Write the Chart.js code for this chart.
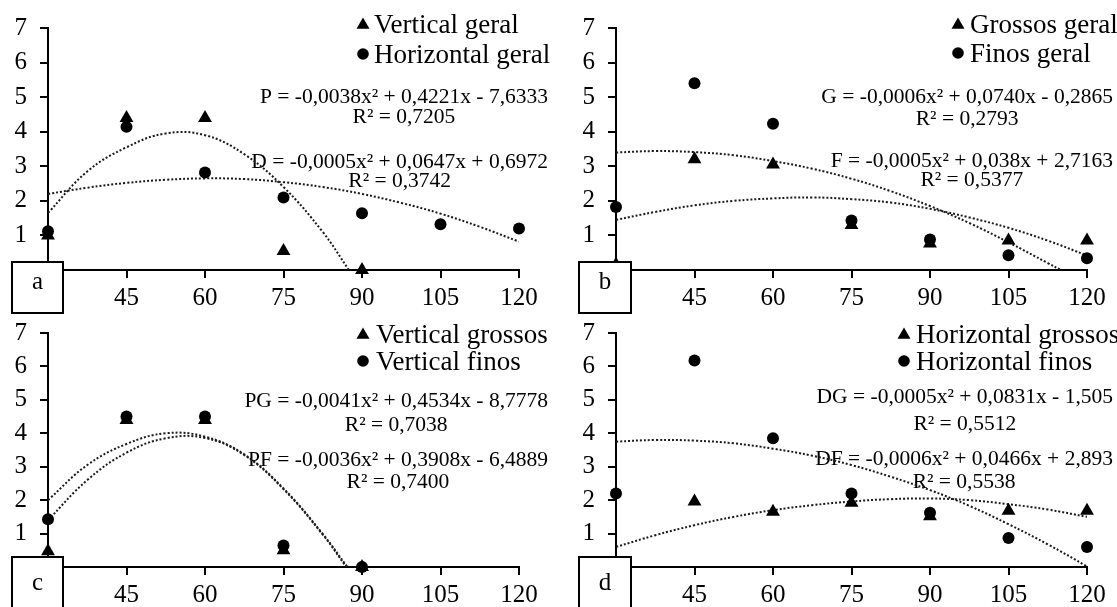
<!DOCTYPE html>
<html>
<head>
<meta charset="utf-8">
<script src="https://cdn.jsdelivr.net/npm/chart.js@4.4.0/dist/chart.umd.min.js"></script>
<style>
  html, body { margin: 0; padding: 0; background: #fff; }
  body { width: 1117px; height: 607px; position: relative; overflow: hidden; }
  canvas { position: absolute; }
</style>
</head>
<body>
<canvas id="chart-a" width="558" height="315" style="left:0;top:0"></canvas>
<canvas id="chart-b" width="559" height="315" style="left:558px;top:0"></canvas>
<canvas id="chart-c" width="558" height="302" style="left:0;top:305px"></canvas>
<canvas id="chart-d" width="559" height="302" style="left:558px;top:305px"></canvas>
<script>
// shared axes
const xTicks = [30, 45, 60, 75, 90, 105, 120];
const yTicks = [0, 1, 2, 3, 4, 5, 6, 7];
const trendX = [30, 37.5, 45, 52.5, 60, 67.5, 75, 82.5, 90, 97.5, 105, 112.5, 120];

// panel a
const aVerticalX = [30, 45, 60, 75, 90];
const aVertical = [1.0, 4.4, 4.4, 0.55, 0];
const aHorizontal = [1.12, 4.14, 2.82, 2.1, 1.64, 1.32, 1.2];
const aTrendPX = [30, 37.5, 45, 52.5, 60, 67.5, 75, 82.5, 87.5];
const aTrendP = [1.65, 2.85, 3.55, 3.95, 3.9, 3.35, 2.4, 1.1, 0];
const aTrendD = [2.2, 2.38, 2.52, 2.61, 2.65, 2.63, 2.54, 2.4, 2.2, 1.94, 1.63, 1.25, 0.82];

// panel b
const bGrossos = [0.15, 3.2, 3.05, 1.3, 0.77, 0.85, 0.85];
const bFinos = [1.82, 5.4, 4.23, 1.43, 0.88, 0.43, 0.34];
const bTrendG = [1.45, 1.68, 1.87, 2.0, 2.07, 2.1, 2.05, 1.95, 1.77, 1.52, 1.22, 0.85, 0.42];
const bTrendFX = [30, 37.5, 45, 52.5, 60, 67.5, 75, 82.5, 90, 97.5, 105, 112.5, 115];
const bTrendF = [3.4, 3.44, 3.41, 3.32, 3.15, 2.93, 2.64, 2.28, 1.85, 1.36, 0.8, 0.2, 0];

// panel c
const cPointsX = [30, 45, 60, 75, 90];
const cGrossos = [0.47, 4.4, 4.4, 0.5, 0];
const cFinos = [1.43, 4.5, 4.5, 0.64, 0];
const cTrendPGX = [30, 37.5, 45, 52.5, 60, 67.5, 75, 82.5, 87];
const cTrendPG = [1.4, 2.6, 3.42, 3.85, 3.86, 3.35, 2.33, 0.97, 0];
const cTrendPFX = [30, 37.5, 45, 52.5, 60, 67.5, 75, 82.5, 87.2];
const cTrendPF = [2.0, 3.05, 3.68, 4.0, 3.9, 3.37, 2.35, 0.99, 0];

// panel d
const dGrossos = [0, 1.96, 1.65, 1.92, 1.52, 1.68, 1.68];
const dFinos = [2.2, 6.18, 3.85, 2.2, 1.62, 0.87, 0.6];
const dTrendDG = [0.6, 0.95, 1.25, 1.5, 1.7, 1.85, 1.96, 2.03, 2.05, 2.0, 1.88, 1.72, 1.5];
const dTrendDF = [3.75, 3.8, 3.78, 3.7, 3.54, 3.33, 3.05, 2.7, 2.3, 1.83, 1.28, 0.68, 0.02];

const serif = "'Liberation Serif', 'Times New Roman', serif";

function pts(xs, ys) {
  return xs.map((x, i) => ({ x: x, y: ys[i] }));
}

function markers(xs, ys, style) {
  return {
    data: pts(xs, ys),
    pointStyle: style,
    pointRadius: style === 'triangle' ? 8 : 6,
    backgroundColor: '#000',
    borderColor: '#000',
    borderWidth: 0,
    showLine: false,
    clip: false
  };
}

function trend(xs, ys) {
  return {
    data: pts(xs, ys),
    showLine: true,
    pointRadius: 0,
    borderColor: '#1a1a1a',
    borderWidth: 2,
    borderDash: [2, 2],
    tension: 0.4,
    fill: false
  };
}

function drawTriangle(ctx, x, y, r) {
  ctx.beginPath();
  ctx.moveTo(x, y - r);
  ctx.lineTo(x + r * 0.866, y + r / 2);
  ctx.lineTo(x - r * 0.866, y + r / 2);
  ctx.closePath();
  ctx.fill();
}

// equations, legend and the letter box
const decorations = {
  id: 'decorations',
  beforeDatasetsDraw(chart, args, opts) {
    const ctx = chart.ctx;
    ctx.save();
    ctx.fillStyle = '#000';
    ctx.textBaseline = 'alphabetic';
    ctx.font = '21.5px ' + serif;
    opts.equations.forEach(eq => {
      const w = ctx.measureText(eq.fit).width;
      ctx.textAlign = 'right';
      ctx.fillText(eq.fit, opts.eqRight, eq.y);
      ctx.textAlign = 'center';
      ctx.fillText(eq.r2, opts.eqRight - w / 2, eq.r2y);
    });
    ctx.restore();
  },
  afterDraw(chart, args, opts) {
    const ctx = chart.ctx;
    ctx.save();
    ctx.fillStyle = '#000';
    ctx.textBaseline = 'alphabetic';
    ctx.textAlign = 'left';
    ctx.font = '27px ' + serif;
    opts.legend.forEach(row => {
      if (row.shape === 'triangle') {
        drawTriangle(ctx, opts.markerX, row.y - 8, 7.5);
      } else {
        ctx.beginPath();
        ctx.arc(opts.markerX, row.y - 9, 5.8, 0, Math.PI * 2);
        ctx.fill();
      }
      ctx.fillText(row.text, opts.textX, row.y);
    });
    const b = opts.box;
    ctx.fillStyle = '#fff';
    ctx.fillRect(b[0], b[1], b[2], b[3]);
    ctx.strokeStyle = '#000';
    ctx.lineWidth = 2;
    ctx.strokeRect(b[0], b[1], b[2], b[3]);
    ctx.fillStyle = '#000';
    ctx.font = '25px ' + serif;
    ctx.textAlign = 'center';
    ctx.fillText(opts.label, b[0] + b[2] / 2, opts.labelY);
    ctx.restore();
  }
};

function buildChart(id, datasets, cfg) {
  return new Chart(document.getElementById(id), {
    type: 'scatter',
    data: { datasets: datasets },
    options: {
      responsive: false,
      animation: false,
      events: [],
      layout: { padding: { left: 0, right: cfg.padRight, top: cfg.padTop, bottom: 0 } },
      plugins: {
        legend: { display: false },
        tooltip: { enabled: false },
        decorations: cfg.deco
      },
      scales: {
        x: {
          type: 'linear',
          min: 30,
          max: 120,
          afterBuildTicks: s => { s.ticks = xTicks.map(v => ({ value: v })); },
          afterFit: s => { s.height = cfg.xAxisHeight; },
          grid: { drawOnChartArea: false, drawTicks: true, tickLength: 8, color: '#000', lineWidth: 2 },
          border: { display: true, color: '#000', width: 2 },
          ticks: {
            color: '#000',
            padding: 5,
            maxRotation: 0,
            font: { family: serif, size: 25 },
            callback: v => (v === 30 ? '' : v)
          }
        },
        y: {
          min: 0,
          max: 7,
          afterBuildTicks: s => { s.ticks = yTicks.map(v => ({ value: v })); },
          afterFit: s => { s.width = cfg.yAxisWidth; },
          grid: { drawOnChartArea: false, drawTicks: true, tickLength: 8, color: '#000', lineWidth: 2 },
          border: { display: true, color: '#000', width: 2 },
          ticks: {
            color: '#000',
            padding: 13,
            font: { family: serif, size: 25 },
            callback: v => (v === 0 ? '' : v)
          }
        }
      }
    },
    plugins: [decorations]
  });
}

buildChart('chart-a', [
  markers(aVerticalX, aVertical, 'triangle'),
  markers(xTicks, aHorizontal, 'circle'),
  trend(aTrendPX, aTrendP),
  trend(trendX, aTrendD)
], {
  padRight: 39, padTop: 26, xAxisHeight: 45, yAxisWidth: 48,
  deco: {
    label: 'a', box: [12, 262, 51, 51], labelY: 289,
    markerX: 363, textX: 374,
    legend: [
      { shape: 'triangle', text: 'Vertical geral', y: 33 },
      { shape: 'circle', text: 'Horizontal geral', y: 63 }
    ],
    eqRight: 548,
    equations: [
      { fit: 'P = -0,0038x² + 0,4221x - 7,6333', r2: 'R² = 0,7205', y: 103, r2y: 123 },
      { fit: 'D = -0,0005x² + 0,0647x + 0,6972', r2: 'R² = 0,3742', y: 168, r2y: 187 }
    ]
  }
});

buildChart('chart-b', [
  markers(xTicks, bGrossos, 'triangle'),
  markers(xTicks, bFinos, 'circle'),
  trend(trendX, bTrendG),
  trend(bTrendFX, bTrendF)
], {
  padRight: 30, padTop: 26, xAxisHeight: 45, yAxisWidth: 58,
  deco: {
    label: 'b', box: [21, 262, 52, 51], labelY: 289,
    markerX: 400, textX: 412,
    legend: [
      { shape: 'triangle', text: 'Grossos geral', y: 33 },
      { shape: 'circle', text: 'Finos geral', y: 62 }
    ],
    eqRight: 555,
    equations: [
      { fit: 'G = -0,0006x² + 0,0740x - 0,2865', r2: 'R² = 0,2793', y: 103, r2y: 125 },
      { fit: 'F = -0,0005x² + 0,038x + 2,7163', r2: 'R² = 0,5377', y: 167, r2y: 186 }
    ]
  }
});

buildChart('chart-c', [
  markers(cPointsX, cGrossos, 'triangle'),
  markers(cPointsX, cFinos, 'circle'),
  trend(cTrendPGX, cTrendPG),
  trend(cTrendPFX, cTrendPF)
], {
  padRight: 39, padTop: 28, xAxisHeight: 40, yAxisWidth: 48,
  deco: {
    label: 'c', box: [12, 252, 51, 60], labelY: 285,
    markerX: 363, textX: 376,
    legend: [
      { shape: 'triangle', text: 'Vertical grossos', y: 38 },
      { shape: 'circle', text: 'Vertical finos', y: 65 }
    ],
    eqRight: 548,
    equations: [
      { fit: 'PG = -0,0041x² + 0,4534x - 8,7778', r2: 'R² = 0,7038', y: 102, r2y: 126 },
      { fit: 'PF = -0,0036x² + 0,3908x - 6,4889', r2: 'R² = 0,7400', y: 161, r2y: 183 }
    ]
  }
});

buildChart('chart-d', [
  markers(xTicks, dGrossos, 'triangle'),
  markers(xTicks, dFinos, 'circle'),
  trend(trendX, dTrendDG),
  trend(trendX, dTrendDF)
], {
  padRight: 30, padTop: 28, xAxisHeight: 40, yAxisWidth: 58,
  deco: {
    label: 'd', box: [21, 252, 52, 60], labelY: 285,
    markerX: 346, textX: 358,
    legend: [
      { shape: 'triangle', text: 'Horizontal grossos', y: 38 },
      { shape: 'circle', text: 'Horizontal finos', y: 65 }
    ],
    eqRight: 555,
    equations: [
      { fit: 'DG = -0,0005x² + 0,0831x - 1,505', r2: 'R² = 0,5512', y: 98, r2y: 125 },
      { fit: 'DF = -0,0006x² + 0,0466x + 2,893', r2: 'R² = 0,5538', y: 160, r2y: 183 }
    ]
  }
});
</script>
</body>
</html>
